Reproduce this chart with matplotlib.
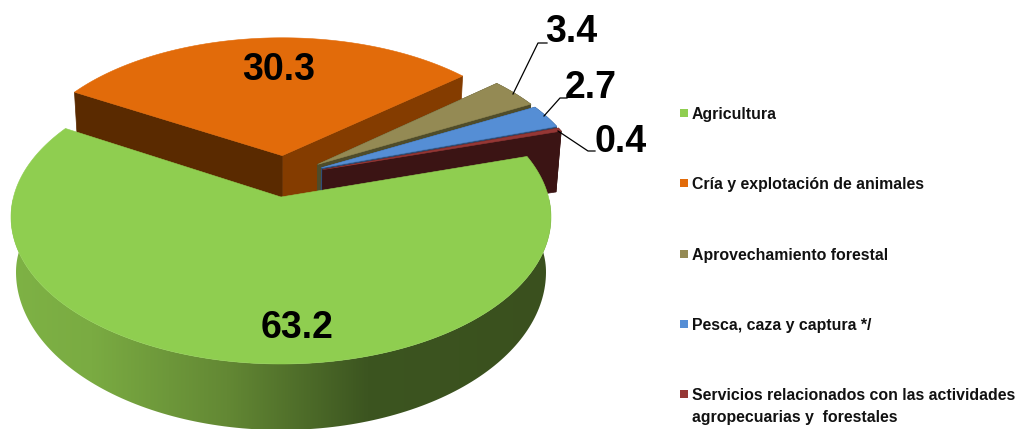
import numpy as np
import matplotlib
matplotlib.use("Agg")
import matplotlib.pyplot as plt
from matplotlib.patches import Polygon

categories = ["Agricultura", "Cría y explotación de animales", "Aprovechamiento forestal",
              "Pesca, caza y captura */", "Servicios relacionados con las actividades\nagropecuarias y  forestales"]
values = [63.2, 30.3, 3.4, 2.7, 0.4]
value_labels = ["63.2", "30.3", "3.4", "2.7", "0.4"]

# estilo
top_colors = ["#8FCE50", "#E26B0A", "#948A54", "#558ED5", "#953735"]
face_start = ["#3A521E", "#5A2A00", "#4F4C2A", "#2F4F78", "#3B1414"]
face_end = ["#3A521E", "#843C00", "#4F4C2A", "#2F4F78", "#3B1414"]
label_pos = [(297, 327.5), (279, 70.5), (571, 32.5), (591, 88.5), (621, 142.5)]
legend_y = [113, 183, 254, 324, 394]
bold = ["Liberation Sans", "DejaVu Sans"]

# geometria del pastel en perspectiva
cx, cy, rx, ry = 281, 217, 270, 147
tilt = 0.136
explode = 0.15
start = 17.0
depth = 55
rx_bot = 265
ry_far = 137
ry_near = 158

fig = plt.figure(figsize=(10.17, 4.29), dpi=100)
ax = fig.add_axes([0, 0, 1, 1])


def project(x, y, bottom=False):
    # del plano del pastel a pixeles
    s = np.sqrt(1 - tilt ** 2)
    d = 1 + tilt * y
    xn = x * s / d
    yn = (y + tilt) / d
    if bottom:
        return cx + rx_bot * xn, cy + depth - np.where(yn > 0, ry_far, ry_near) * yn
    return cx + rx * xn, cy - ry * yn


angles = [start]
for v in values:
    angles.append(angles[-1] - v / sum(values) * 360)

bis0 = np.radians((angles[0] + angles[1]) / 2)
pc = (-explode * np.cos(bis0), -explode * np.sin(bis0))


def wedge(i):
    bis = np.radians((angles[i] + angles[i + 1]) / 2)
    ox = pc[0] + explode * np.cos(bis)
    oy = pc[1] + explode * np.sin(bis)
    t = np.radians(np.linspace(angles[i], angles[i + 1], 200))
    return ox, oy, ox + np.cos(t), oy + np.sin(t)


def quad(xa, ya, xb, yb, color, z):
    x1, y1 = project(np.array([xa, xb]), np.array([ya, yb]))
    x2, y2 = project(np.array([xa, xb]), np.array([ya, yb]), bottom=True)
    pts = [(x1[0], y1[0]), (x1[1], y1[1]), (x2[1], y2[1]), (x2[0], y2[0])]
    ax.add_patch(Polygon(pts, closed=True, fc=color, ec=color, lw=0.5, zorder=z))


for i in [1, 2, 3, 4, 0]:
    z = {1: 1, 2: 2, 3: 3, 4: 4, 0: 5}[i]
    ox, oy, ax_x, ax_y = wedge(i)
    if i != 0:
        quad(ox, oy, ax_x[-1], ax_y[-1], face_end[i], z)
        quad(ox, oy, ax_x[0], ax_y[0], face_start[i], z)
        if i > 1:
            xa, ya = project(ax_x, ax_y)
            xb, yb = project(ax_x, ax_y, bottom=True)
            pts = np.column_stack([np.r_[xa, xb[::-1]], np.r_[ya, yb[::-1]]])
            ax.add_patch(Polygon(pts, closed=True, fc=face_start[i], ec=face_start[i], lw=0.5, zorder=z))
    else:
        # lado del verde con degradado
        xa, ya = project(ax_x, ax_y)
        xb, yb = project(ax_x, ax_y, bottom=True)
        pts = np.column_stack([np.r_[xa, xb[::-1]], np.r_[ya, yb[::-1]]])
        side = Polygon(pts, closed=True, fc="none", ec="none", zorder=z)
        ax.add_patch(side)
        stops = np.array([[0x7E, 0xB2, 0x45], [0x7A, 0xAB, 0x42], [0x63, 0x88, 0x34], [0x3C, 0x55, 0x20], [0x3A, 0x50, 0x1E]]) / 255
        xs = np.linspace(0, 1, 300)
        grad = np.column_stack([np.interp(xs, [0, 0.15, 0.4, 0.66, 1], stops[:, c]) for c in range(3)])
        im = ax.imshow(grad[np.newaxis, :, :], extent=(11, 551, 429, 200), aspect="auto", zorder=z)
        im.set_clip_path(side)
    xt, yt = project(np.r_[ox, ax_x], np.r_[oy, ax_y])
    ax.add_patch(Polygon(np.column_stack([xt, yt]), closed=True, fc=top_colors[i], ec=top_colors[i], lw=0.4, zorder=z + 0.5))

# lineas guia
ax.plot([513, 538, 547], [94, 43, 43], color="black", lw=0.9, zorder=6)
ax.plot([544, 560, 567], [116, 98, 98], color="black", lw=0.9, zorder=6)
ax.plot([558, 588, 595], [131, 151, 151], color="black", lw=0.9, zorder=6)

for lab, (lx, ly) in zip(value_labels, label_pos):
    ax.text(lx, ly, lab, family=bold, fontweight="bold", fontsize=27, ha="center", va="center", color="black", zorder=7)

for i, cat in enumerate(categories):
    ax.add_patch(Polygon([(680, legend_y[i] - 4), (688, legend_y[i] - 4), (688, legend_y[i] + 4), (680, legend_y[i] + 4)],
                         closed=True, fc=top_colors[i], ec="none", zorder=6))
    ax.text(692, legend_y[i] - 6, cat, family=bold, fontweight="bold", fontsize=11.4, ha="left", va="top",
            color="#111111", linespacing=1.6, zorder=7)

ax.set_xlim(0, 1017)
ax.set_ylim(429, 0)
ax.axis("off")
fig.savefig("out.png", dpi=100)
